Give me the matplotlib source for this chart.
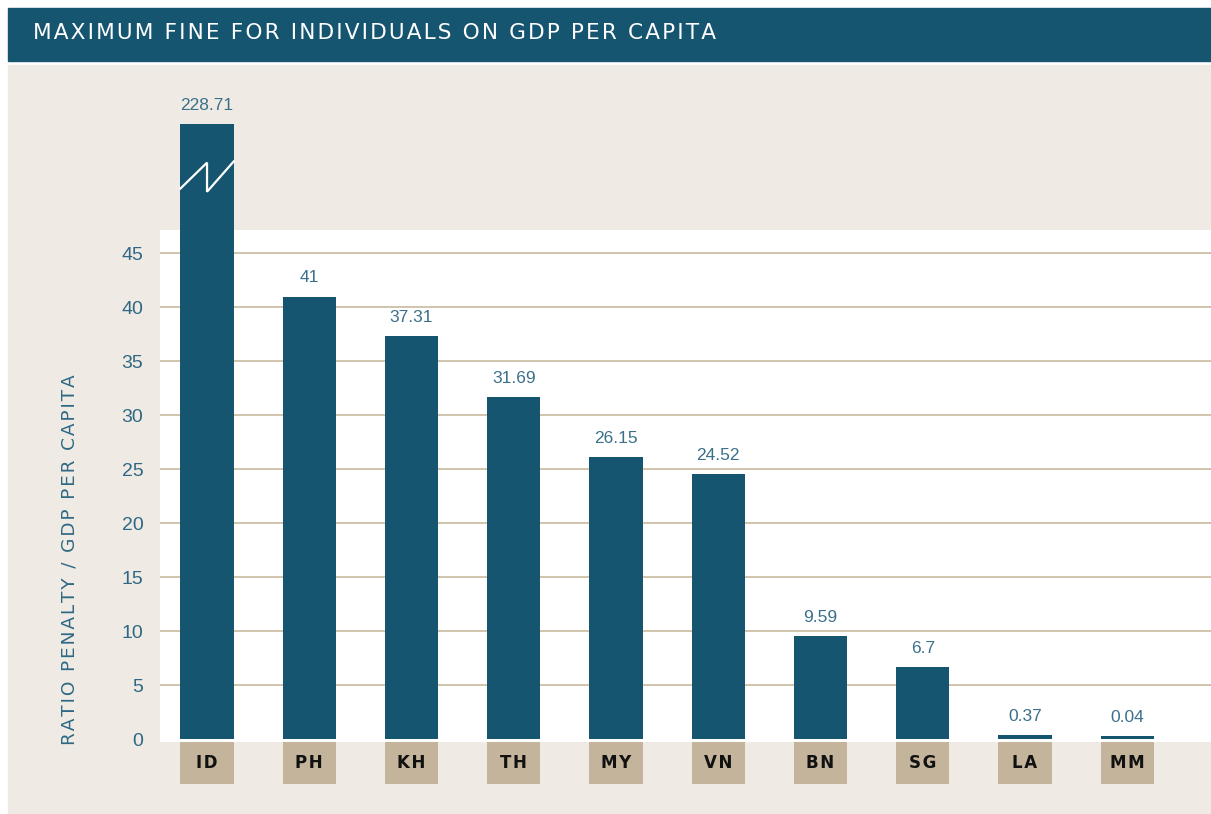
import matplotlib.pyplot as plt
from matplotlib.patches import Rectangle

# data
countries = ["ID", "PH", "KH", "TH", "MY", "VN", "BN", "SG", "LA", "MM"]
ratios = [228.71, 41, 37.31, 31.69, 26.15, 24.52, 9.59, 6.7, 0.37, 0.04]
value_labels = ["228.71", "41", "37.31", "31.69", "26.15", "24.52", "9.59", "6.7", "0.37", "0.04"]
yticks = [0, 5, 10, 15, 20, 25, 30, 35, 40, 45]

title = "MAXIMUM FINE FOR INDIVIDUALS ON GDP PER CAPITA"
ylabel = "RATIO PENALTY / GDP PER CAPITA"

dark = "#165570"
beige = "#efebe4"
tan = "#c3b49b"
grid_col = "#cdbfa5"
txt = "#2e6884"

W, H = 1211, 814


def track(s):
    # fake letter spacing with hair spaces
    return "\u200a".join(s)


fig = plt.figure(figsize=(W / 100, H / 100), dpi=100)
fig.patch.set_facecolor("white")


def px_rect(x0, y0, x1, y1, color):
    fig.patches.append(Rectangle((x0 / W, 1 - y1 / H), (x1 - x0) / W, (y1 - y0) / H,
                                 transform=fig.transFigure, color=color, zorder=-10))


px_rect(8, 8, W, 61, dark)
px_rect(8, 65, W, H, beige)
fig.text(33 / W, 1 - 33 / H, track(title), color="white", fontsize=15.6,
         family="DejaVu Sans", va="center", ha="left")

ax = fig.add_axes([160 / W, 1 - 742 / H, 1051 / W, 512 / H])
ax.set_facecolor("white")
for s in ax.spines.values():
    s.set_visible(False)

x = list(range(len(countries)))
cap = 57.0  # broken-axis display height for values beyond the axis
min_h = 0.3  # keep tiny bars visible
heights = [max(min(v, cap), min_h) for v in ratios]
bw = 0.52

for v in yticks[1:]:
    ax.axhline(v, color=grid_col, lw=1.3, zorder=1)

ax.bar(x, heights, width=bw, color=dark, zorder=3, clip_on=False)
# category boxes below the axis
ax.bar(x, [-3.9] * len(x), bottom=-0.25, width=bw, color=tan, zorder=3, clip_on=False)
for xi, c in zip(x, countries):
    ax.text(xi, -2.2, track(c), ha="center", va="center",
            fontsize=12, fontweight="bold", color="#111111", family="DejaVu Sans")

for xi, h, lab in zip(x, heights, value_labels):
    ax.annotate(lab, (xi, h), xytext=(0, 8), textcoords="offset points",
                ha="center", va="bottom", fontsize=12.5, color="#3a7089",
                family="Liberation Sans", annotation_clip=False)

# break mark on the capped bar
for xi, v in zip(x, ratios):
    if v > cap:
        l, r = xi - bw / 2, xi + bw / 2
        ax.plot([l, xi, xi, r], [51.0, 53.4, 50.7, 53.5], color="white", lw=1.6,
                zorder=4, clip_on=False, solid_joinstyle="miter")

ax.set_xlim(-0.46, 9.82)
ax.set_ylim(-0.25, 47.16)
ax.set_yticks(yticks)
ax.set_yticklabels([str(t) for t in yticks], fontsize=14, color=txt, family="Liberation Sans")
ax.tick_params(axis="y", length=0, pad=12)
ax.set_xticks([])

fig.text(70 / W, 1 - 560 / H, track(ylabel), rotation=90, color=txt, fontsize=13.3,
         family="DejaVu Sans", ha="center", va="center")

fig.savefig("out.png", dpi=100)
